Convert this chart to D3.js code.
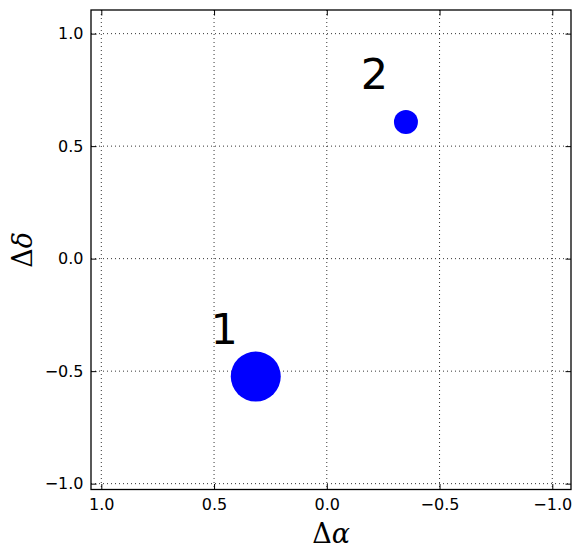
<!DOCTYPE html>
<html><head><meta charset="utf-8">
<script src="https://cdn.jsdelivr.net/npm/d3@7"></script>
<style>body{margin:0;background:#fff}svg{display:block}</style>
</head><body>
<script>
const labels = ["1", "2"];
const dAlpha = [0.315, -0.351];
const dDelta = [-0.524, 0.607];
const radii = [25, 12];
const xTicks = [1.0, 0.5, 0.0, -0.5, -1.0];
const yTicks = [-1.0, -0.5, 0.0, 0.5, 1.0];

const W = 581, H = 558;
const L = 91, R = 571, T = 10, B = 489.5;
const svg = d3.select("body").append("svg").attr("width", W).attr("height", H);

const x = d3.scaleLinear().domain([1.0457, -1.083]).range([L, R]);
const y = d3.scaleLinear().domain([1.105, -1.026]).range([T, B]);
const fmt = d3.format(".1f");
const tfmt = v => fmt(v).replace("-", "\u2212");

// grid
const g = svg.append("g");
g.selectAll(".gx").data(xTicks).join("line")
  .attr("x1", d => x(d)).attr("x2", d => x(d)).attr("y1", T).attr("y2", B)
  .attr("stroke", "#000").attr("stroke-width", 0.8).attr("stroke-dasharray", "1,3");
g.selectAll(".gy").data(yTicks).join("line")
  .attr("y1", d => y(d)).attr("y2", d => y(d)).attr("x1", L).attr("x2", R)
  .attr("stroke", "#000").attr("stroke-width", 0.8).attr("stroke-dasharray", "1,3");

// axes with inward ticks
const font = "'DejaVu Sans', sans-serif";
function styleAxis(sel) {
  sel.select(".domain").remove();
  sel.selectAll("line").attr("stroke", "#000").attr("stroke-width", 1);
  sel.selectAll("text").attr("font-family", font).attr("font-size", 16).attr("fill", "#000");
}
svg.append("g").attr("transform", `translate(0,${B})`)
  .call(d3.axisBottom(x).tickValues(xTicks).tickFormat(tfmt).tickSizeInner(-5.5).tickPadding(9))
  .call(styleAxis);
svg.append("g").attr("transform", `translate(0,${T})`)
  .call(d3.axisTop(x).tickValues(xTicks).tickFormat("").tickSizeInner(-5.5))
  .call(styleAxis);
svg.append("g").attr("transform", `translate(${L},0)`)
  .call(d3.axisLeft(y).tickValues(yTicks).tickFormat(tfmt).tickSizeInner(-5.5).tickPadding(7.5))
  .call(styleAxis);
svg.append("g").attr("transform", `translate(${R},0)`)
  .call(d3.axisRight(y).tickValues(yTicks).tickFormat("").tickSizeInner(-5.5))
  .call(styleAxis);

// frame
svg.append("rect").attr("x", L).attr("y", T).attr("width", R - L).attr("height", B - T)
  .attr("fill", "none").attr("stroke", "#000").attr("stroke-width", 1.3);

// points
const idx = d3.range(labels.length);
svg.selectAll(".pt").data(idx).join("circle")
  .attr("cx", i => x(dAlpha[i])).attr("cy", i => y(dDelta[i])).attr("r", i => radii[i])
  .attr("fill", "#0000ff");
svg.selectAll(".lb").data(idx).join("text")
  .attr("x", i => x(dAlpha[i] + 0.14)).attr("y", i => y(dDelta[i] + 0.145))
  .attr("text-anchor", "middle").attr("font-family", font).attr("font-size", 43)
  .text(i => labels[i]);

// axis labels
const xl = svg.append("text").attr("x", (L + R) / 2).attr("y", 542.5).attr("text-anchor", "middle")
  .attr("font-family", "'DejaVu Serif', serif").attr("font-size", 27);
xl.append("tspan").text("\u0394");
xl.append("tspan").attr("font-style", "italic").text("\u03b1");
const yl = svg.append("text").attr("transform", `translate(31.5,${(T + B) / 2}) rotate(-90)`)
  .attr("text-anchor", "middle").attr("font-family", "'DejaVu Serif', serif").attr("font-size", 27);
yl.append("tspan").text("\u0394");
yl.append("tspan").attr("font-style", "italic").text("\u03b4");
</script>
</body></html>
